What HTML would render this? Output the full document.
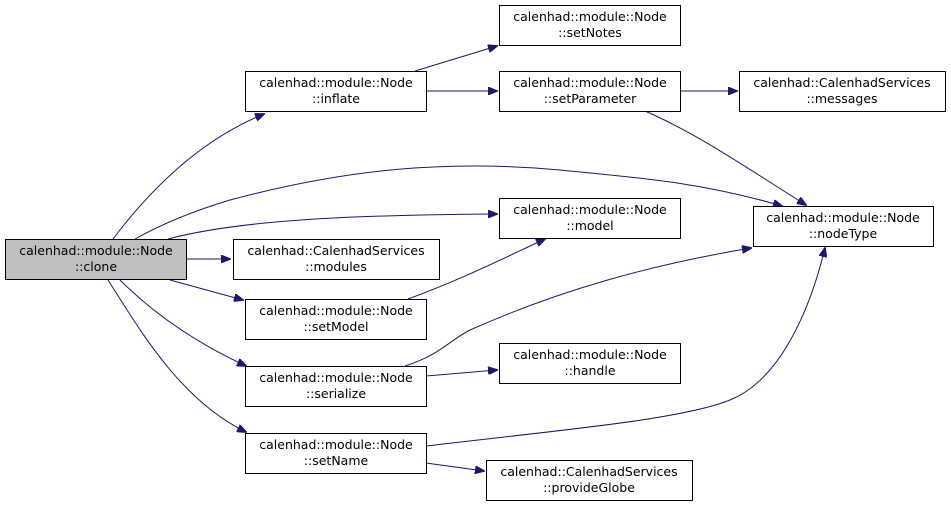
<!DOCTYPE html>
<html><head><meta charset="utf-8"><style>
html,body{margin:0;padding:0;background:#fff;}
svg{display:block;}
text{font-family:"DejaVu Sans","Liberation Sans",sans-serif;font-size:12.5px;fill:#000;}
</style></head><body>
<svg width="951" height="507" viewBox="0 0 951 507" xmlns="http://www.w3.org/2000/svg">
<defs><marker id="a" markerWidth="10" markerHeight="8" refX="9" refY="4" orient="auto" markerUnits="userSpaceOnUse"><path d="M0,0 L10,4 L0,8 z" fill="#191970" stroke="#191970"/></marker></defs>
<g fill="none" stroke="#191970" stroke-width="1" marker-end="url(#a)">
<path d="M113,239 C150,190 200,140 264,114"/>
<path d="M135,239 C160,225 190,212 230,200 C350,168 450,160 560,170 C640,178 700,182 782,206"/>
<path d="M168,239 C240,220 350,215 497,214"/>
<path d="M186,259 L230,259"/>
<path d="M170,280 L243,300"/>
<path d="M120,280 C150,310 190,340 246,366"/>
<path d="M108,280 C140,330 180,400 246,432"/>
<path d="M415,71 L497,46"/>
<path d="M426,91 L497,91"/>
<path d="M680,91 L737,91"/>
<path d="M645,111 C700,135 750,170 806,205"/>
<path d="M408,299 C460,280 500,260 545,239"/>
<path d="M405,366 C440,355 450,340 470,330 C560,290 650,265 751,248"/>
<path d="M426,376 L497,370"/>
<path d="M426,446 C560,430 680,420 730,400 C780,380 810,310 825,248"/>
<path d="M426,463 L484,471"/>
</g>
<g stroke="#000" stroke-width="1" fill="#fff">
<rect x="5.5" y="239.5" width="181" height="40" fill="#bfbfbf"/>
<rect x="245.5" y="71.5" width="181" height="40"/>
<rect x="499.5" y="5.5" width="181" height="40"/>
<rect x="499.5" y="71.5" width="181" height="40"/>
<rect x="739.5" y="71.5" width="206" height="40"/>
<rect x="753.5" y="206.5" width="180" height="40"/>
<rect x="499.5" y="198.5" width="181" height="40"/>
<rect x="233.5" y="239.5" width="206" height="40"/>
<rect x="245.5" y="299.5" width="181" height="40"/>
<rect x="245.5" y="366.5" width="181" height="40"/>
<rect x="499.5" y="343.5" width="181" height="40"/>
<rect x="245.5" y="433.5" width="181" height="40"/>
<rect x="486.5" y="460.5" width="206" height="40"/>
</g>
<g text-anchor="middle">
<text x="96" y="255">calenhad::module::Node</text><text x="96" y="271">::clone</text>
<text x="336" y="87">calenhad::module::Node</text><text x="336" y="103">::inflate</text>
<text x="590" y="21">calenhad::module::Node</text><text x="590" y="37">::setNotes</text>
<text x="590" y="87">calenhad::module::Node</text><text x="590" y="103">::setParameter</text>
<text x="842" y="87">calenhad::CalenhadServices</text><text x="842" y="103">::messages</text>
<text x="843" y="222">calenhad::module::Node</text><text x="843" y="238">::nodeType</text>
<text x="590" y="214">calenhad::module::Node</text><text x="590" y="230">::model</text>
<text x="336" y="255">calenhad::CalenhadServices</text><text x="336" y="271">::modules</text>
<text x="336" y="315">calenhad::module::Node</text><text x="336" y="331">::setModel</text>
<text x="336" y="382">calenhad::module::Node</text><text x="336" y="398">::serialize</text>
<text x="590" y="359">calenhad::module::Node</text><text x="590" y="375">::handle</text>
<text x="336" y="449">calenhad::module::Node</text><text x="336" y="465">::setName</text>
<text x="589" y="476">calenhad::CalenhadServices</text><text x="589" y="492">::provideGlobe</text>
</g>
</svg>
</body></html>
